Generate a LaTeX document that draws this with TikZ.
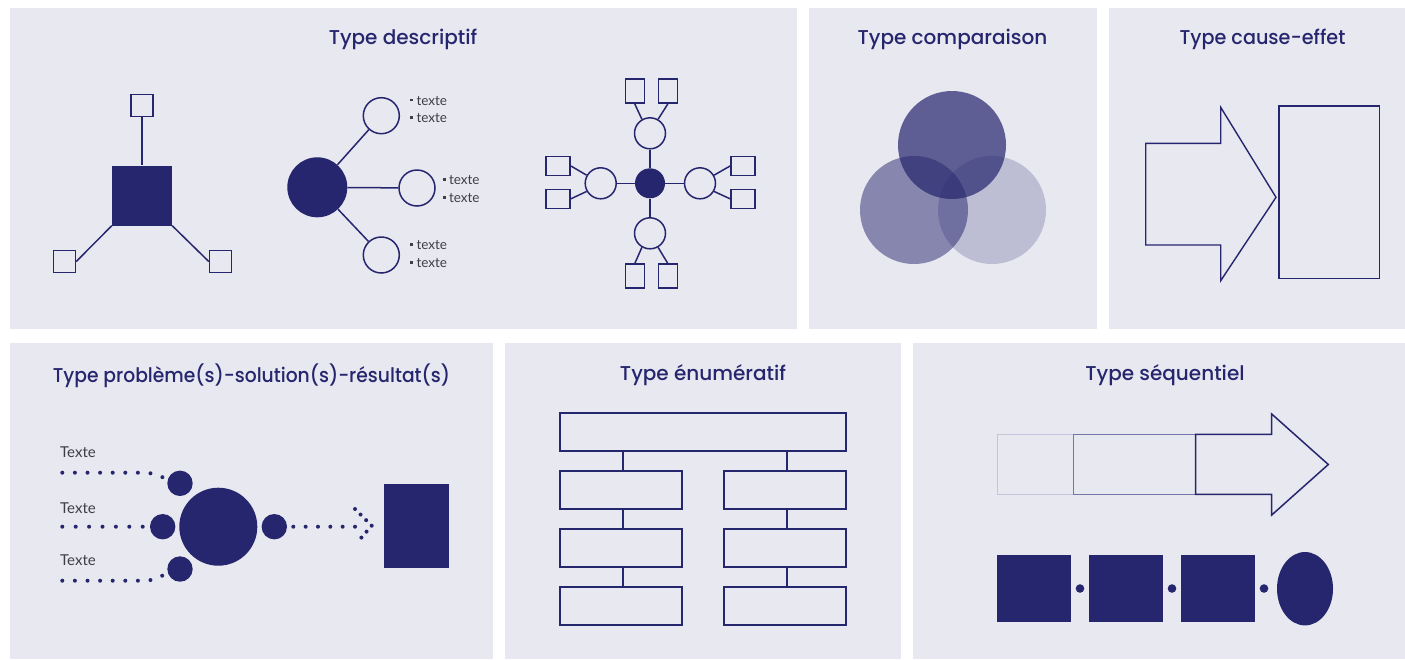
\documentclass[tikz,border=0pt]{standalone}
\usepackage{fontspec}
\setmainfont{Lato}
\IfFontExistsTF{Poppins Medium}{\newfontfamily\titlefont{Poppins Medium}}{\newfontfamily\titlefont{Poppins}[FakeBold=0.6]}
\usetikzlibrary{shapes.geometric}
\definecolor{panelbg}{RGB}{232,232,241}
\definecolor{dark}{RGB}{38,38,110}
\definecolor{titlec}{RGB}{38,38,110}
\definecolor{txtgray}{RGB}{62,62,70}
\definecolor{seqlight}{RGB}{196,196,220}
\definecolor{seqmid}{RGB}{118,118,170}
\newcommand{\bul}{\textcolor{txtgray}{\rule[0.28em]{2.8pt}{2.8pt}}\hspace{3.5pt}}
\begin{document}
\begin{tikzpicture}[x=1pt,y=-1pt,
  panel/.style={fill=panelbg,draw=none},
  title/.style={font=\titlefont\fontsize{20}{24}\selectfont,text=titlec},
  ln/.style={draw=dark,line width=1.5pt},
  osq/.style={rectangle,draw=dark,line width=1.5pt,inner sep=0pt},
  fsq/.style={rectangle,fill=dark,draw=none,inner sep=0pt},
  oci/.style={circle,draw=dark,line width=1.5pt,inner sep=0pt},
  fci/.style={circle,fill=dark,draw=none,inner sep=0pt},
  bullets/.style={anchor=west,align=left,text=txtgray,inner sep=0pt,font=\fontsize{13.5}{17.7}\selectfont},
  lbl/.style={anchor=west,text=txtgray,inner sep=0pt,font=\fontsize{15}{17}\selectfont},
  dots/.style={draw=dark,line width=4pt,line cap=round,dash pattern=on 0pt off #1},
  venn/.style={circle,fill=dark,draw=none,inner sep=0pt,minimum size=108pt,fill opacity=#1},
  erect/.style={rectangle,draw=dark,line width=1.3pt,inner sep=0pt,minimum height=38pt}
]
\useasboundingbox (0,0) rectangle (1405,659);
\fill[white] (0,0) rectangle (1405,659);
% panels
\fill[panel] (10,8) rectangle (797,329);
\fill[panel] (809,8) rectangle (1097,329);
\fill[panel] (1109,8) rectangle (1405,329);
\fill[panel] (10,343) rectangle (493,659);
\fill[panel] (505,343) rectangle (901,659);
\fill[panel] (913,343) rectangle (1405,659);
% titles
\node[title] (T1) at (403,39.5) {Type descriptif};
\node[title] (T2) at (952.5,39.5) {Type comparaison};
\node[title] (T3) at (1262.5,39.5) {\scalebox{0.96}[1]{Type cause-effet}};
\node[title] (T4) at (251.5,375.5) {\scalebox{0.936}[1]{Type problème(s)-solution(s)-résultat(s)}};
\node[title] (T5) at (703,375.5) {Type énumératif};
\node[title] (T6) at (1165,375.5) {Type séquentiel};

% ---------- descriptif 1
\node[fsq,minimum size=60pt] (d1c) at (142,195.5) {};
\node[osq,minimum size=22pt] (d1t) at (142,105.5) {};
\node[osq,minimum size=22pt] (d1l) at (64.5,261.5) {};
\node[osq,minimum size=22pt] (d1r) at (220.5,261.5) {};
\draw[ln] (d1t) -- (d1c);
\draw[ln] (d1c.south west) -- (d1l.east);
\draw[ln] (d1c.south east) -- (d1r.west);

% ---------- descriptif 2
\node[fci,minimum size=60pt] (d2c) at (317.3,187.3) {};
\node[oci,minimum size=36pt] (d2a) at (381.3,115.7) {};
\node[oci,minimum size=36pt] (d2b) at (417,188) {};
\node[oci,minimum size=36pt] (d2d) at (381.3,255) {};
\draw[ln] (d2c) -- (d2a);
\draw[ln] (d2c) -- (d2b);
\draw[ln] (d2c) -- (d2d);
\node[bullets] (d2ta) at (410,109.5) {\bul texte\\\bul texte};
\node[bullets] (d2tb) at (442.5,189.2) {\bul texte\\\bul texte};
\node[bullets] (d2td) at (410,254.2) {\bul texte\\\bul texte};

% ---------- descriptif 3
\node[fci,minimum size=30pt] (d3c) at (650,183.3) {};
\node[oci,minimum size=31pt] (d3t) at (650,133.3) {};
\node[oci,minimum size=31pt] (d3b) at (650,233.3) {};
\node[oci,minimum size=31pt] (d3l) at (600.7,183.3) {};
\node[oci,minimum size=31pt] (d3r) at (700,183.3) {};
\draw[ln] (d3c) -- (d3t);
\draw[ln] (d3c) -- (d3b);
\draw[ln] (d3c) -- (d3l);
\draw[ln] (d3c) -- (d3r);
\node[osq,minimum width=19pt,minimum height=24pt] (q1) at (634.8,91.2) {};
\node[osq,minimum width=19pt,minimum height=24pt] (q2) at (667.8,91.2) {};
\node[osq,minimum width=19pt,minimum height=24pt] (q3) at (634.8,276.2) {};
\node[osq,minimum width=19pt,minimum height=24pt] (q4) at (667.8,276.2) {};
\node[osq,minimum width=24pt,minimum height=19pt] (q5) at (558.2,166) {};
\node[osq,minimum width=24pt,minimum height=19pt] (q6) at (558.2,198.8) {};
\node[osq,minimum width=24pt,minimum height=19pt] (q7) at (742.8,166) {};
\node[osq,minimum width=24pt,minimum height=19pt] (q8) at (742.8,198.8) {};
\draw[ln] (d3t.120) -- (q1.south);
\draw[ln] (d3t.60) -- (q2.south);
\draw[ln] (d3b.240) -- (q3.north);
\draw[ln] (d3b.300) -- (q4.north);
\draw[ln] (d3l.150) -- (q5.east);
\draw[ln] (d3l.210) -- (q6.east);
\draw[ln] (d3r.30) -- (q7.west);
\draw[ln] (d3r.-30) -- (q8.west);

% ---------- comparaison
\node[venn=0.71] (v1) at (952,145) {};
\node[venn=0.50] (v2) at (914,210) {};
\node[venn=0.22] (v3) at (992,210) {};

% ---------- cause-effet
\draw[ln,line width=1.4pt,line join=miter] (1145.7,143.3) -- (1220.7,143.3) -- (1220.7,107.3) -- (1276,197.3)
  -- (1220.7,280.7) -- (1220.7,245) -- (1145.7,245) -- cycle;
\node[osq,line width=1.4pt,minimum width=100.7pt,minimum height=172.7pt] (ce) at (1329.3,192.3) {};

% ---------- probleme-solution-resultat
\node[fci,minimum size=78pt] (pc) at (218.3,526.7) {};
\node[fci,minimum size=25.4pt] (pt) at (180,483.3) {};
\node[fci,minimum size=25.4pt] (pm) at (162.7,526.7) {};
\node[fci,minimum size=25.4pt] (pb) at (180,569) {};
\node[fci,minimum size=25.4pt] (pr) at (274.3,526.7) {};
\node[fsq,minimum width=65.3pt,minimum height=84pt] (pres) at (416.7,526) {};
\node[lbl] (l1) at (60,452) {Texte};
\node[lbl] (l2) at (60,508) {Texte};
\node[lbl] (l3) at (60,560.5) {Texte};
\coordinate (a1) at (62.3,472.7);
\coordinate (a2) at (62.3,526.7);
\coordinate (a3) at (62.3,580.7);
\coordinate (r1) at (293.3,526.7);
\coordinate (r2) at (355,526.7);
\coordinate (c1) at (355,509);
\coordinate (c2) at (371.7,525.7);
\coordinate (c3) at (356.7,543);
\draw[dots=12.6pt] (a1) -- (141.7,472.7) .. controls (152,472.9) and (157,473.8) .. (pt.165);
\draw[dots=13.4pt] (a2) -- (pm);
\draw[dots=12.6pt] (a3) -- (141.7,580.7) .. controls (152,580.5) and (157,579.6) .. (pb.195);
\draw[dots=12.34pt] (r1) -- (r2);
\draw[dots=7.87pt] (c1) -- (c2) -- (c3);

% ---------- enumeratif
\node[erect,minimum width=286pt] (e0) at (703,432) {};
\node[erect,minimum width=122pt] (e1) at (621,490) {};
\node[erect,minimum width=122pt] (e2) at (621,548) {};
\node[erect,minimum width=122pt] (e3) at (621,606) {};
\node[erect,minimum width=122pt] (f1) at (785,490) {};
\node[erect,minimum width=122pt] (f2) at (785,548) {};
\node[erect,minimum width=122pt] (f3) at (785,606) {};
\draw[ln,line width=1.2pt] ([xshift=2pt]e1.north) -- ([xshift=2pt]e1.north |- e0.south);
\draw[ln,line width=1.2pt] ([xshift=2pt]e1.south) -- ([xshift=2pt]e2.north);
\draw[ln,line width=1.2pt] ([xshift=2pt]e2.south) -- ([xshift=2pt]e3.north);
\draw[ln,line width=1.2pt] ([xshift=2pt]f1.north) -- ([xshift=2pt]f1.north |- e0.south);
\draw[ln,line width=1.2pt] ([xshift=2pt]f1.south) -- ([xshift=2pt]f2.north);
\draw[ln,line width=1.2pt] ([xshift=2pt]f2.south) -- ([xshift=2pt]f3.north);

% ---------- sequentiel
\node[rectangle,draw=seqlight,line width=1.5pt,inner sep=0pt,minimum width=76pt,minimum height=60pt] (s1) at (1035.3,464.3) {};
\node[rectangle,draw=seqmid,line width=1.5pt,inner sep=0pt,minimum width=122.4pt,minimum height=60pt] (s2) at (1134.5,464.3) {};
\draw[ln,line join=miter] (1195.7,434.3) -- (1271.7,434.3) -- (1271.7,414) -- (1328.3,464.5) -- (1271.7,515)
  -- (1271.7,494.3) -- (1195.7,494.3) -- cycle;
\node[fsq,minimum width=73.7pt,minimum height=66.7pt] (b1) at (1034.2,588.3) {};
\node[fsq,minimum width=73.7pt,minimum height=66.7pt] (b2) at (1126.2,588.3) {};
\node[fsq,minimum width=73.7pt,minimum height=66.7pt] (b3) at (1218.2,588.3) {};
\node[ellipse,fill=dark,inner sep=0pt,minimum width=56pt,minimum height=73.4pt] (b4) at (1305,588.7) {};
\node[fci,minimum size=8.6pt] (k1) at (1080,588.5) {};
\node[fci,minimum size=8.6pt] (k2) at (1172,588.5) {};
\node[fci,minimum size=8.6pt] (k3) at (1264,588.5) {};
\end{tikzpicture}
\end{document}
